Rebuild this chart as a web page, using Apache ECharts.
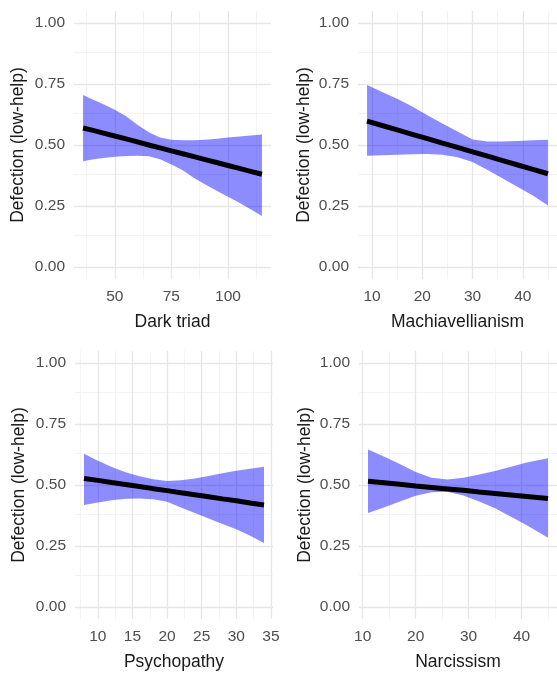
<!DOCTYPE html>
<html>
<head>
<meta charset="utf-8">
<script src="https://cdn.jsdelivr.net/npm/echarts@6/dist/echarts.min.js"></script>
<style>
html,body{margin:0;padding:0;background:#fff;}
#c{width:557px;height:675px;}
</style>
</head>
<body>
<div id="c"></div>
<script>
// ---------- data ----------
const yTitle = 'Defection (low-help)';
const yTicks = [0, 0.25, 0.5, 0.75, 1];

// Panel 1: Dark triad
const darkX     = [36, 40, 45, 50, 55, 60, 65, 70, 75, 80, 85, 90, 95, 100, 105, 110, 115];
const darkUpper = [.705, .688, .667, .645, .618, .583, .552, .531, .522, .520, .520, .522, .526, .531, .535, .539, .543];
const darkLower = [.433, .440, .447, .452, .455, .456, .454, .442, .420, .396, .365, .338, .312, .288, .263, .236, .209];
const darkFit   = [.570, .561, .549, .537, .525, .513, .500, .488, .476, .464, .452, .440, .428, .416, .404, .392, .380];
const darkTicks = [50, 75, 100];

// Panel 2: Machiavellianism
const machX     = [9, 12, 15, 18, 21, 24, 27, 30, 33, 36, 39, 42, 45];
const machUpper = [.746, .718, .690, .658, .622, .588, .555, .523, .514, .514, .516, .519, .522];
const machLower = [.456, .458, .460, .462, .463, .460, .450, .430, .397, .362, .328, .293, .252];
const machFit   = [.598, .580, .562, .544, .526, .508, .490, .472, .454, .436, .418, .400, .382];
const machTicks = [10, 20, 30, 40];

// Panel 3: Psychopathy
const psyX     = [8, 10, 12, 14, 16, 18, 20, 22, 24, 26, 28, 30, 32, 34];
const psyUpper = [.628, .600, .574, .552, .536, .524, .516, .519, .527, .537, .548, .558, .567, .575];
const psyLower = [.418, .428, .437, .444, .445, .441, .431, .408, .385, .362, .340, .318, .292, .262];
const psyFit   = [.527, .519, .510, .502, .494, .485, .477, .468, .460, .452, .443, .435, .426, .418];
const psyTicks = [10, 15, 20, 25, 30, 35];

// Panel 4: Narcissism
const narX     = [11, 14, 17, 20, 23, 26, 29, 32, 35, 38, 41, 45];
const narUpper = [.646, .617, .586, .553, .530, .523, .530, .543, .557, .575, .592, .610];
const narLower = [.385, .408, .432, .456, .470, .472, .457, .432, .405, .370, .335, .283];
const narFit   = [.515, .509, .503, .496, .490, .484, .478, .471, .465, .459, .453, .445];
const narTicks = [10, 20, 30, 40];

const panels = [
  {name: 'Dark triad', x: darkX, up: darkUpper, lo: darkLower, fit: darkFit, ticks: darkTicks,
   grid: {left: 74, top: 11, width: 197, height: 268}, xmin: 32, xmax: 119, gap: 47},
  {name: 'Machiavellianism', x: machX, up: machUpper, lo: machLower, fit: machFit, ticks: machTicks,
   grid: {left: 358, top: 11, width: 200, height: 268}, xmin: 7.2, xmax: 46.8, gap: 45},
  {name: 'Psychopathy', x: psyX, up: psyUpper, lo: psyLower, fit: psyFit, ticks: psyTicks,
   grid: {left: 75, top: 351, width: 198, height: 268}, xmin: 6.7, xmax: 35.3, gap: 47},
  {name: 'Narcissism', x: narX, up: narUpper, lo: narLower, fit: narFit, ticks: narTicks,
   grid: {left: 359, top: 351, width: 200, height: 268}, xmin: 9.3, xmax: 46.7, gap: 45}
];

// ---------- chart ----------
const FONT = '"Liberation Sans", Arial, sans-serif';
const grids = [], xAxes = [], yAxes = [], series = [];

function minorOf(ticks, lo, hi) {
  const step = ticks[1] - ticks[0];
  const out = [];
  for (let v = ticks[0] - step / 2; v <= hi; v += step) if (v >= lo) out.push(v);
  return out;
}

panels.forEach((p, i) => {
  grids.push(Object.assign({containLabel: false}, p.grid));
  xAxes.push({
    type: 'value', gridIndex: i, min: p.xmin, max: p.xmax,
    name: p.name, nameLocation: 'middle', nameGap: 34,
    nameTextStyle: {fontFamily: FONT, fontSize: 17.5, color: '#1a1a1a'},
    axisLine: {show: false}, axisTick: {show: false}, splitLine: {show: false},
    axisLabel: {customValues: p.ticks, margin: 10, fontFamily: FONT, fontSize: 15.5, color: '#4d4d4d'}
  });
  yAxes.push({
    type: 'value', gridIndex: i, min: -0.05, max: 1.05,
    name: yTitle, nameLocation: 'middle', nameGap: p.gap,
    nameTextStyle: {fontFamily: FONT, fontSize: 17.5, color: '#1a1a1a'},
    axisLine: {show: false}, axisTick: {show: false}, splitLine: {show: false},
    axisLabel: {customValues: yTicks, margin: 9, fontFamily: FONT, fontSize: 15.5, color: '#4d4d4d',
      formatter: v => v.toFixed(2)}
  });
  const yMinor = minorOf(yTicks, -0.05, 1.05);
  const xMinor = minorOf(p.ticks, p.xmin, p.xmax);
  const mk = (arr, key, color, w) => arr.map(v => ({[key]: v, lineStyle: {color: color, width: w, type: 'solid'}}));
  // grid lines
  series.push({
    type: 'line', xAxisIndex: i, yAxisIndex: i, data: [], z: 1, silent: true,
    markLine: {
      z: 1, silent: true, symbol: ['none', 'none'], animation: false, label: {show: false},
      emphasis: {disabled: true},
      data: [].concat(
        mk(yMinor, 'yAxis', '#f3f3f3', 1),
        mk(xMinor, 'xAxis', '#f3f3f3', 1),
        mk(yTicks, 'yAxis', '#e6e6e6', 1.3),
        mk(p.ticks, 'xAxis', '#e6e6e6', 1.3)
      )
    }
  });
  // confidence ribbon
  series.push({
    type: 'custom', xAxisIndex: i, yAxisIndex: i, z: 2, silent: true,
    data: p.x.map((x, k) => [x, p.lo[k], p.up[k]]),
    encode: {x: 0, y: [1, 2]},
    renderItem: function (params, api) {
      if (params.dataIndex !== 0) return null;
      const pts = [];
      for (let k = 0; k < p.x.length; k++) pts.push(api.coord([p.x[k], p.up[k]]));
      for (let k = p.x.length - 1; k >= 0; k--) pts.push(api.coord([p.x[k], p.lo[k]]));
      return {type: 'polygon', shape: {points: pts}, style: {fill: 'rgba(0,0,255,0.45)', stroke: null}};
    }
  });
  // fitted line
  series.push({
    type: 'line', xAxisIndex: i, yAxisIndex: i, z: 3, silent: true,
    data: p.x.map((x, k) => [x, p.fit[k]]),
    showSymbol: false, symbol: 'none',
    lineStyle: {color: '#000', width: 5}
  });
});

const chart = echarts.init(document.getElementById('c'), null, {renderer: 'canvas'});
chart.setOption({
  animation: false,
  backgroundColor: '#fff',
  grid: grids, xAxis: xAxes, yAxis: yAxes, series: series
});
</script>
</body>
</html>
